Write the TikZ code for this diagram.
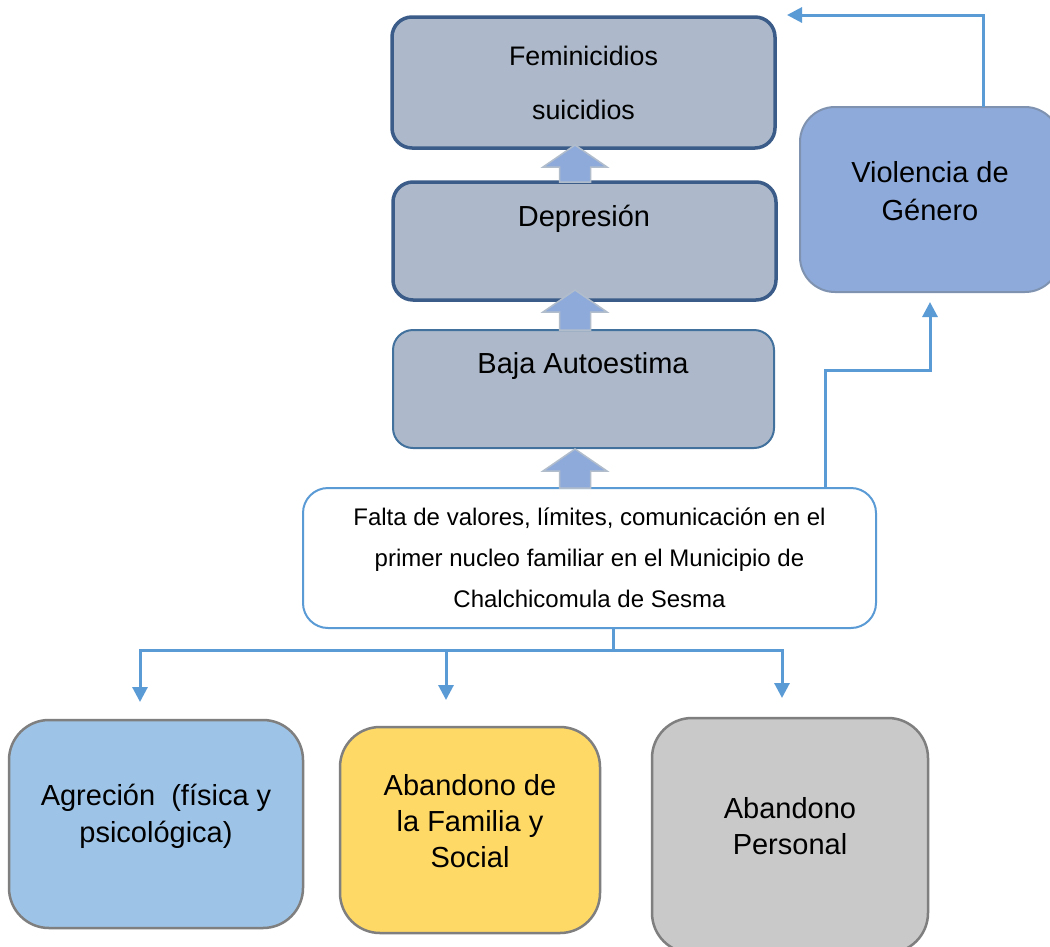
\documentclass[tikz,border=0pt]{standalone}
\usepackage{fontspec}
\setmainfont{Liberation Sans}
\usetikzlibrary{arrows.meta,calc}
\definecolor{connc}{HTML}{5B9BD5}
\definecolor{topfill}{HTML}{ADB9CA}
\definecolor{topdraw}{HTML}{3B5C88}
\definecolor{bajadraw}{HTML}{41719C}
\definecolor{violfill}{HTML}{8EAADB}
\definecolor{violdraw}{HTML}{7F93B0}
\definecolor{agrfill}{HTML}{9DC3E6}
\definecolor{abfill}{HTML}{FFD966}
\definecolor{perfill}{HTML}{C9C9C9}
\definecolor{botdraw}{HTML}{7F7F7F}
\definecolor{arrfill}{HTML}{8EAADB}
\definecolor{arrdraw}{HTML}{B2BDCC}
\newcommand{\blockup}[2]{%
  \draw[blockarr] let \p1=#1, \p2=#2 in
  (\x1-15.5pt,\y2) -- (\x1-15.5pt,\y1-22pt) -- (\x1-32pt,\y1-22pt) -- (\x1,\y1)
  -- (\x1+32pt,\y1-22pt) -- (\x1+15.5pt,\y1-22pt) -- (\x1+15.5pt,\y2) -- cycle;}
\begin{document}
\begin{tikzpicture}[x=1pt,y=-1pt,
  every node/.style={inner sep=0pt,outer sep=0pt},
  box/.style={rectangle,anchor=north west,inner sep=0pt},
  topbox/.style={box,draw=topdraw,line width=3.5pt,fill=topfill,rounded corners=20pt},
  bajabox/.style={box,draw=bajadraw,line width=2pt,fill=topfill,rounded corners=20pt},
  violbox/.style={box,draw=violdraw,line width=2pt,fill=violfill,rounded corners=35pt},
  faltabox/.style={box,draw=connc,line width=2pt,fill=white,rounded corners=25pt},
  botbox/.style={box,draw=botdraw,line width=2.5pt,rounded corners=40pt},
  bigtext/.style={align=center,font=\fontsize{29}{37}\selectfont},
  blockarr/.style={fill=arrfill,draw=arrdraw,line width=1.5pt,line join=miter},
  cline/.style={draw=connc,line width=3pt},
  conn/.style={cline,-{Triangle[length=15pt,width=15pt]}}]
\useasboundingbox (0,0) rectangle (1050,946);
\clip (0,0) rectangle (1050,946);
\fill[white] (0,0) rectangle (1050,946);

% boxes
\node[topbox,minimum width=383pt,minimum height=131pt,align=center,
      font=\fontsize{26.8}{54}\selectfont] (fem) at (392,17) {Feminicidios\\suicidios};
\node[topbox,minimum width=383pt,minimum height=118pt] (dep) at (393,182) {};
\node[bigtext] (depT) at (584,219) {Depresión};
\node[bajabox,minimum width=381pt,minimum height=118pt] (baja) at (393,330) {};
\node[bigtext] (bajaT) at (583,366) {Baja Autoestima};
\node[violbox,minimum width=260pt,minimum height=185pt] (viol) at (800,107) {};
\node[bigtext,font=\fontsize{29}{38}\selectfont] (violT) at (930,191) {Violencia de\\Género};
\node[faltabox,minimum width=573pt,minimum height=140pt,align=center,
      font=\fontsize{24}{41}\selectfont] (falta) at (303,488)
      {Falta de valores, límites, comunicación en el\\primer nucleo familiar en el Municipio de\\Chalchicomula de Sesma};
\node[botbox,fill=agrfill,minimum width=294pt,minimum height=208pt] (agr) at (9,720) {};
\node[bigtext] (agrT) at (156,816) {Agreción\ \ (física y\\psicológica)};
\node[botbox,fill=abfill,minimum width=260pt,minimum height=206pt] (ab) at (340,727) {};
\node[bigtext,font=\fontsize{29}{36}\selectfont] (abT) at (470,821) {Abandono de\\la Familia y\\Social};
\node[botbox,fill=perfill,minimum width=276pt,minimum height=235pt] (per) at (652,718) {};
\node[bigtext,font=\fontsize{29}{36}\selectfont] (perT) at (790,826) {Abandono\\Personal};

% block arrows
\coordinate (t1) at ($(fem.south)+(-8.5,-3)$);
\coordinate (t2) at ($(dep.south)+(-9.5,-10)$);
\coordinate (t3) at ($(baja.south)+(-8.5,1)$);
\blockup{(t1)}{(dep.north)}
\blockup{(t2)}{(baja.north)}
\blockup{(t3)}{(falta.north)}

% connectors
\draw[conn] ($(falta.north west)+(522,0)$) -- ++(0,-118) -| ($(viol.south)+(0,10)$);
\draw[conn] ($(viol.north west)+(183,0)$) |- ($(fem.north east)+(12,-2)$);
\draw[conn] ($(falta.south west)+(310,0)$) -- ++(0,22) -| ($(agr.north)+(-16,-18)$);
\draw[conn] ($(falta.south west)+(310,0)$) -- ++(0,22) -| ($(ab.north)+(-24,-27)$);
\draw[conn] ($(falta.south west)+(310,0)$) -- ++(0,22) -| ($(per.north)+(-8,-20)$);
\end{tikzpicture}
\end{document}
